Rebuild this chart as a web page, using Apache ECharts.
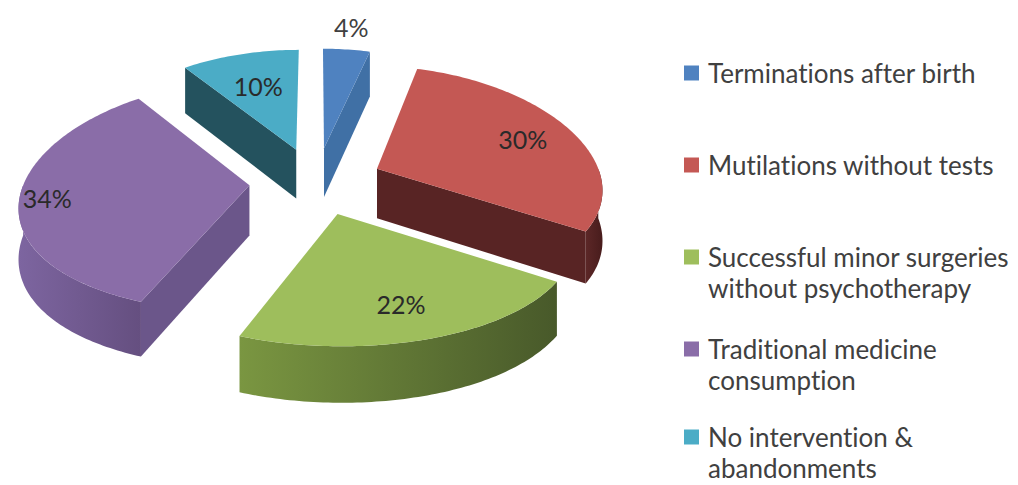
<!DOCTYPE html>
<html>
<head>
<meta charset="utf-8">
<script src="https://cdn.jsdelivr.net/npm/echarts@6/dist/echarts.min.js"></script>
<style>
  html, body { margin: 0; padding: 0; background: #fff; }
  #chart { width: 1018px; height: 485px; }
  #chart text { font-variant-ligatures: none; }
</style>
</head>
<body>
<div id="chart"></div>
<script>
// data
const categories = [
  'Terminations after birth',
  'Mutilations without tests',
  'Successful minor surgeries\nwithout psychotherapy',
  'Traditional medicine\nconsumption',
  'No intervention &\nabandonments'
];
const values = [4, 30, 22, 34, 10];

// colours: top face, radial cut face, outer wall (light -> dark)
const topColors = ['#4f82c0', '#c45854', '#9ebe5c', '#8a6da8', '#4bacc6'];
const cutColors = ['#4070a5', '#582424', '#56692e', '#6b568a', '#24525e'];
const wallColors = [
  ['#3f6c9f', '#33587f'],
  ['#5c2727', '#481c1c'],
  ['#7a9641', '#48592a'],
  ['#7d65a0', '#654f80'],
  ['#2a5f6d', '#204954']
];
// where the % label sits along the slice radius
const labelPos = [1.25, 0.75, 0.74, 0.88, 0.65];
// first text line centre of each legend entry
const legendY = [73, 165, 257, 349, 437];

// fake 3d pie geometry
const CX = 316, CY = 181, R = 225, S = 0.507, EXPLODE = 66.7, DEPTH = 50;
const D = 1462, DY = 2504;   // perspective

const total = values.reduce((a, b) => a + b, 0);
const starts = [];
values.reduce((acc, v) => { starts.push(acc); return acc + v; }, 0);

function proj(X, Z, drop) {
  const kx = D / (D + Z), ky = DY / (DY + Z);
  return [CX + X * kx, CY - Z * S * ky + (drop || 0) * ky];
}
const rad = d => d * Math.PI / 180;

function renderSlice(params, api) {
  const i = params.dataIndex;
  const v = api.value(0);
  const a0 = starts[i] / total * 360;
  const a1 = a0 + v / total * 360;
  const mid = (a0 + a1) / 2;
  const ox = EXPLODE * Math.sin(rad(mid)), oz = EXPLODE * Math.cos(rad(mid));
  const pt = (deg, r, drop) => proj(ox + r * Math.sin(rad(deg)), oz + r * Math.cos(rad(deg)), drop);
  const arc = (from, to, drop) => {
    const out = [];
    const n = Math.max(2, Math.ceil(Math.abs(to - from)));
    for (let k = 0; k <= n; k++) out.push(pt(from + (to - from) * k / n, R, drop));
    return out;
  };
  const base = Math.round(100 - Math.cos(rad(mid)) * 50) * 10;
  const children = [];

  // outer wall, only the front half shows
  const w0 = Math.max(a0, 90), w1 = Math.min(a1, 270);
  if (w1 > w0) {
    const pts = arc(w0, w1, 0).concat(arc(w1, w0, DEPTH));
    children.push({
      type: 'polygon', z2: base + 1,
      shape: { points: pts },
      style: {
        fill: new echarts.graphic.LinearGradient(0, 0, 1, 0, [
          { offset: 0, color: wallColors[i][0] },
          { offset: 1, color: wallColors[i][1] }
        ])
      }
    });
  }
  // radial cut faces
  const cut = deg => [pt(0, 0, 0), pt(deg, R, 0), pt(deg, R, DEPTH), pt(0, 0, DEPTH)];
  if (Math.sin(rad(a0)) < -0.01) {
    children.push({ type: 'polygon', z2: base + 2, shape: { points: cut(a0) }, style: { fill: cutColors[i] } });
  }
  if (Math.sin(rad(a1)) > 0.01) {
    children.push({ type: 'polygon', z2: base + 2, shape: { points: cut(a1) }, style: { fill: cutColors[i] } });
  }
  // top face
  children.push({
    type: 'polygon', z2: base + 3,
    shape: { points: [pt(0, 0, 0)].concat(arc(a0, a1, 0)) },
    style: { fill: topColors[i] }
  });
  // label
  const lp = pt(mid, R * labelPos[i], 0);
  children.push({
    type: 'text', z2: 5000,
    style: {
      text: Math.round(v / total * 100) + '%',
      x: lp[0], y: lp[1],
      align: 'center', verticalAlign: 'middle',
      fontFamily: 'Lato', fontSize: 25,
      fill: labelPos[i] > 1 ? '#404040' : '#2a2a2a'
    }
  });
  return { type: 'group', children: children };
}

const chart = echarts.init(document.getElementById('chart'), null, { renderer: 'svg' });
chart.setOption({
  animation: false,
  legend: categories.map((name, i) => ({
    data: [name],
    orient: 'vertical',
    left: 684,
    top: legendY[i] - (name.includes('\n') ? 46.5 : 15.5),
    padding: 0,
    icon: 'rect',
    itemWidth: 15,
    itemHeight: 15,
    selectedMode: false,
    formatter: n => (n.includes('\n') ? '\n' + n : n),
    textStyle: { fontFamily: 'Lato', fontSize: 26, color: '#404040', lineHeight: 31, padding: [0, 0, 0, 4] }
  })),
  series: [
    {
      type: 'custom',
      coordinateSystem: 'none',
      renderItem: renderSlice,
      data: values.map(v => [v]),
      silent: true
    },
    {
      // only feeds the legend
      type: 'pie',
      center: [-200, -200],
      radius: 1,
      silent: true,
      label: { show: false },
      data: categories.map((name, i) => ({ name, value: values[i], itemStyle: { color: topColors[i] } }))
    }
  ]
});
</script>
</body>
</html>
